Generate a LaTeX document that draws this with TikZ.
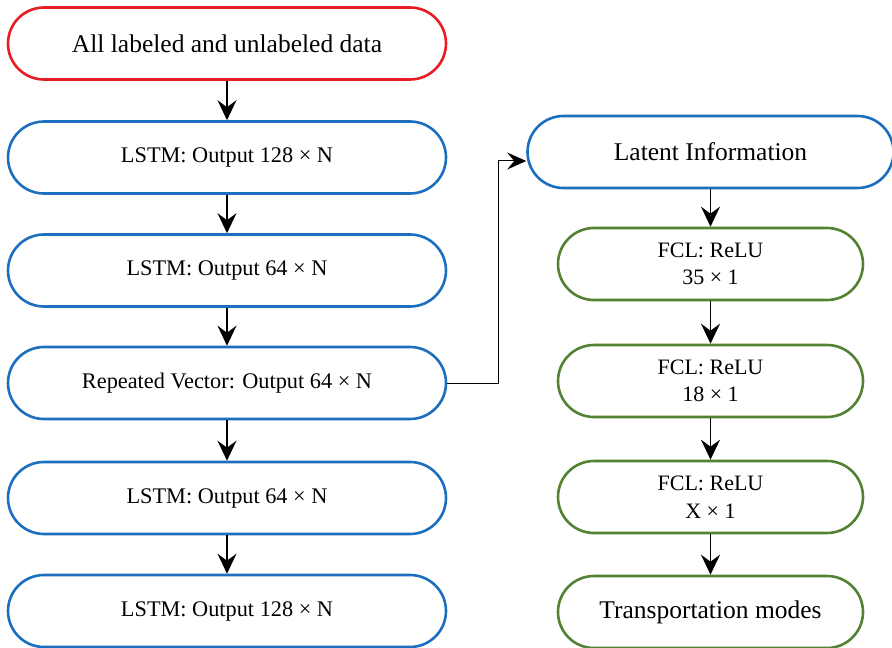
\documentclass[tikz,border=0pt]{standalone}
\usepackage{fontspec}
\setmainfont{Liberation Serif}
\usetikzlibrary{arrows.meta}
\definecolor{cred}{RGB}{232,28,36}
\definecolor{cblue}{RGB}{28,110,190}
\definecolor{cgreen}{RGB}{84,130,53}
\begin{document}
\begin{tikzpicture}[x=1bp,y=-1bp,
  term/.style={draw, line width=2.6bp, rounded corners=36bp, minimum height=72bp,
    inner sep=0pt, align=center, fill=white},
  lbox/.style={term, minimum width=438bp, font=\fontsize{22.3bp}{27.6bp}\selectfont},
  bigtext/.style={font=\fontsize{25.5bp}{30bp}\selectfont},
  fbox/.style={term, draw=cgreen, minimum width=305bp, font=\fontsize{22bp}{27.6bp}\selectfont},
  arr/.style={line width=1.6bp, -{Stealth[length=20bp,width=19bp,inset=7bp]}},
  thinarr/.style={line width=1bp, -{Stealth[length=19bp,width=17bp,inset=7bp]}}
]
\useasboundingbox (0,0) rectangle (892,648);
% left column
\node[lbox, draw=cred, bigtext] (n1) at (227,43.5) {All labeled and unlabeled data};
\node[lbox, draw=cblue] (n2) at (227,157.5) {LSTM: Output 128 × N};
\node[lbox, draw=cblue] (n3) at (227,270.5) {LSTM: Output 64 × N};
\node[lbox, draw=cblue] (n4) at (227,383) {Repeated Vector: Output 64 × N};
\node[lbox, draw=cblue] (n5) at (227,498) {LSTM: Output 64 × N};
\node[lbox, draw=cblue] (n6) at (227,611) {LSTM: Output 128 × N};
% right column
\node[term, draw=cblue, minimum width=366bp, bigtext] (r1) at (710.5,152) {Latent Information};
\node[fbox] (r2) at (710.5,264) {FCL: ReLU\\35 × 1};
\node[fbox] (r3) at (710.5,381) {FCL: ReLU\\18 × 1};
\node[fbox] (r4) at (710.5,497) {FCL: ReLU\\X × 1};
\node[fbox, bigtext] (r5) at (710.5,612) {Transportation modes};
% arrows
\draw[arr] (n1) -- (n2);
\draw[arr] (n2) -- (n3);
\draw[arr] (n3) -- (n4);
\draw[arr] (n4) -- (n5);
\draw[arr] (n5) -- (n6);
\draw[arr] (r1) -- (r2);
\draw[arr] (r2) -- (r3);
\draw[arr] (r3) -- (r4);
\draw[arr] (r4) -- (r5);
\coordinate (bend) at (498,161);
\draw[thinarr] (n4.east) -| (bend) -- (r1.west |- bend);
\end{tikzpicture}
\end{document}
